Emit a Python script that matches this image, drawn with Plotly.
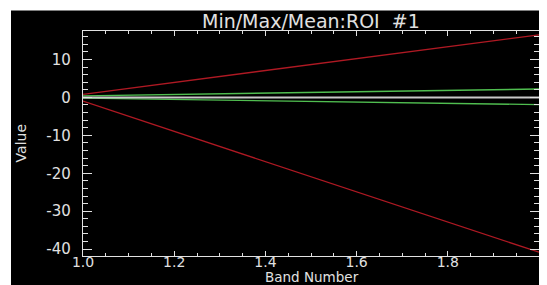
import plotly.graph_objects as go

band = [1.0, 2.0]
max_vals = [0.8, 16.5]
min_vals = [-1.0, -40.8]
mean_vals = [0.0, 0.0]
mean_plus_sd = [0.4, 2.2]
mean_minus_sd = [-0.2, -1.9]

title_text = "Min/Max/Mean:ROI  #1"
x_title = "Band Number"
y_title = "Value"
x_ticks = [1.0, 1.2, 1.4, 1.6, 1.8, 2.0]
y_ticks = [-40, -30, -20, -10, 0, 10]

red = "rgb(175,25,35)"
green = "rgb(80,190,80)"
gray = "rgb(200,200,200)"
fg = "rgb(225,225,225)"
font_family = "DejaVu Sans"

fig = go.Figure()
fig.add_trace(go.Scatter(x=band, y=max_vals, mode="lines", line=dict(color=red, width=1.3)))
fig.add_trace(go.Scatter(x=band, y=min_vals, mode="lines", line=dict(color=red, width=1.3)))
fig.add_trace(go.Scatter(x=band, y=mean_plus_sd, mode="lines", line=dict(color=green, width=1.4)))
fig.add_trace(go.Scatter(x=band, y=mean_minus_sd, mode="lines", line=dict(color=green, width=1.4)))
fig.add_trace(go.Scatter(x=band, y=mean_vals, mode="lines", line=dict(color=gray, width=2)))

# page body has an 8px margin; work in window pixels and convert
OFF = 8
W, H = 539, 277
L = 83 - OFF
T = 30.5 - OFF
R = W - (539 - OFF)
B = H - (255.7 - OFF)
pw = W - L - R
ph = H - T - B

def px_x(px):
    return (px - OFF - L) / pw

def px_y(py):
    return (H - B - (py - OFF)) / ph

fig.add_shape(type="rect", xref="paper", yref="paper",
              x0=px_x(11), x1=px_x(600), y0=px_y(10), y1=px_y(320),
              fillcolor="black", line=dict(width=0), layer="below")

fig.update_layout(
    width=W, height=H,
    margin=dict(l=L, r=R, t=T, b=B, pad=0),
    paper_bgcolor="white", plot_bgcolor="black",
    showlegend=False,
    font=dict(family=font_family, color=fg, size=15),
)

fig.update_xaxes(
    range=[1.0, 2.0], tickvals=x_ticks, ticktext=[f"{v:.1f}" for v in x_ticks],
    ticks="inside", ticklen=5, tickwidth=1, tickcolor=fg,
    minor=dict(ticks="inside", dtick=0.05, ticklen=3, tickcolor=fg, tickwidth=1),
    showline=True, linecolor=fg, linewidth=1.3, mirror="allticks",
    showgrid=False, zeroline=False,
    tickfont=dict(size=14, color=fg), ticklabelstandoff=-7,
)
fig.update_yaxes(
    range=[-41.8, 17.5], tickvals=y_ticks, ticktext=[str(v) for v in y_ticks],
    ticks="inside", ticklen=9, tickwidth=1, tickcolor=fg,
    minor=dict(ticks="inside", dtick=2, ticklen=4.5, tickcolor=fg, tickwidth=1),
    showline=True, linecolor=fg, linewidth=1.3, mirror="allticks",
    showgrid=False, zeroline=False,
    tickfont=dict(size=15, color=fg), ticklabelstandoff=8,
)

fig.add_annotation(text=title_text, xref="paper", yref="paper",
                   x=px_x(311), y=px_y(20), showarrow=False,
                   font=dict(size=19, color=fg), xanchor="center", yanchor="middle")
fig.add_annotation(text=x_title, xref="paper", yref="paper",
                   x=px_x(312), y=px_y(277), showarrow=False,
                   font=dict(size=13.5, color=fg), xanchor="center", yanchor="middle")
fig.add_annotation(text=y_title, xref="paper", yref="paper",
                   x=px_x(21), y=px_y(143), showarrow=False, textangle=-90,
                   font=dict(size=14, color=fg), xanchor="center", yanchor="middle")

fig.write_html("out.html")
